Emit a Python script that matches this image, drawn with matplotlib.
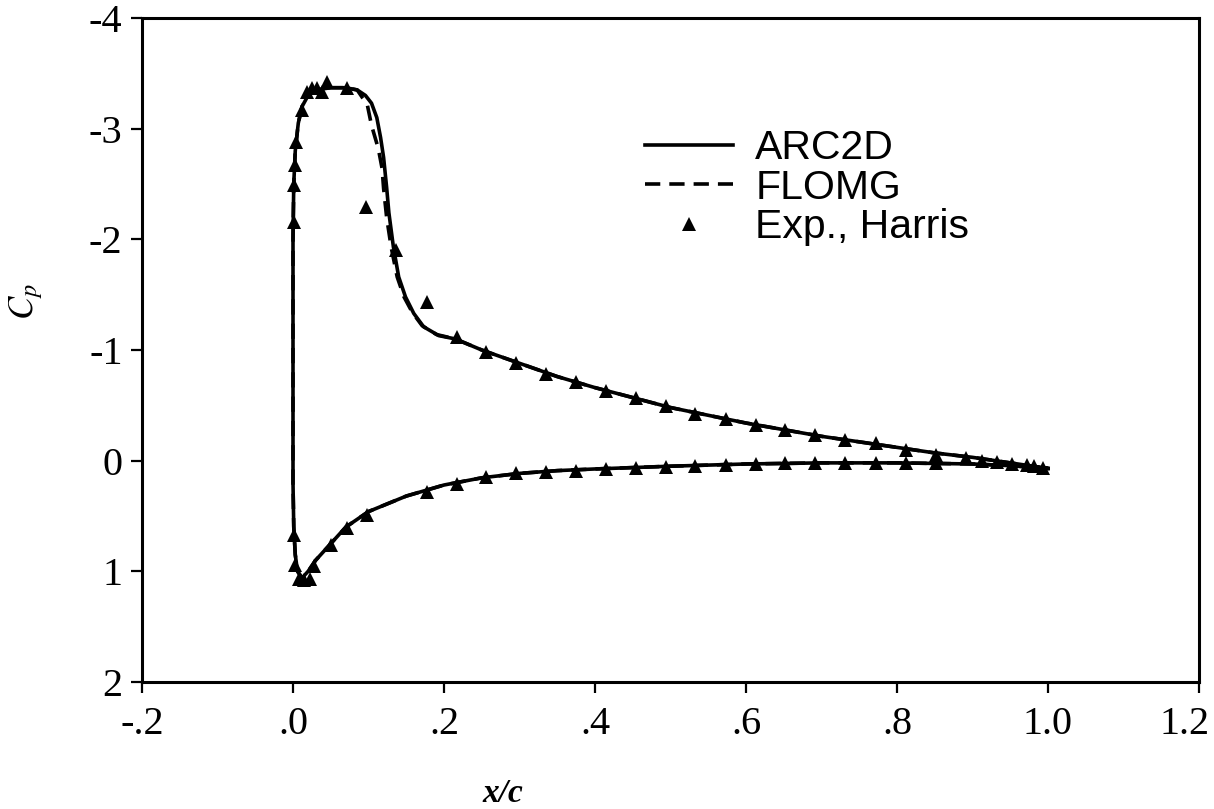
import matplotlib
matplotlib.use("Agg")
import matplotlib.pyplot as plt
import matplotlib.transforms as mtransforms

# ---------------- data ----------------
# ARC2D computed Cp (path: lower TE -> leading edge -> upper TE)
arc_x = [1.0, 0.95, 0.9, 0.8, 0.7, 0.6, 0.5, 0.4, 0.35, 0.3, 0.25, 0.2, 0.15, 0.1,
         0.07, 0.05, 0.03, 0.02, 0.012, 0.006, 0.003, 0.001, 0.0, 0.0, 0.0,
         0.001, 0.003, 0.007, 0.012, 0.02, 0.03, 0.05, 0.07, 0.085, 0.096, 0.104,
         0.111, 0.116, 0.120, 0.124, 0.127, 0.133, 0.14, 0.149, 0.16, 0.173, 0.193,
         0.215, 0.25, 0.3, 0.35, 0.4, 0.45, 0.5, 0.55, 0.6, 0.65, 0.7, 0.75, 0.8,
         0.85, 0.9, 0.95, 1.0]
arc_cp = [0.07, 0.045, 0.03, 0.02, 0.02, 0.03, 0.05, 0.075, 0.09, 0.115, 0.155, 0.22,
          0.32, 0.46, 0.6, 0.75, 0.9, 1.0, 1.06, 1.0, 0.85, 0.6, 0.2, -1.0, -2.0,
          -2.5, -2.8, -3.05, -3.2, -3.3, -3.35, -3.37, -3.37, -3.35, -3.30, -3.23,
          -3.10, -2.92, -2.74, -2.47, -2.24, -1.93, -1.66, -1.48, -1.33, -1.21, -1.13,
          -1.10, -1.00, -0.88, -0.76, -0.66, -0.57, -0.48, -0.41, -0.34, -0.28, -0.22,
          -0.17, -0.12, -0.07, -0.03, 0.02, 0.07]

# FLOMG computed Cp
flomg_x = [1.0, 0.95, 0.9, 0.8, 0.7, 0.6, 0.5, 0.4, 0.35, 0.3, 0.25, 0.2, 0.15, 0.1,
           0.07, 0.05, 0.03, 0.02, 0.012, 0.006, 0.003, 0.001, 0.0, 0.0, 0.0,
           0.001, 0.003, 0.007, 0.012, 0.02, 0.03, 0.05, 0.07, 0.085, 0.092, 0.098,
           0.104, 0.113, 0.118, 0.120, 0.124, 0.130, 0.138, 0.147, 0.158, 0.171, 0.19,
           0.215, 0.25, 0.3, 0.35, 0.4, 0.45, 0.5, 0.55, 0.6, 0.65, 0.7, 0.75, 0.8,
           0.85, 0.9, 0.95, 1.0]
flomg_cp = [0.07, 0.045, 0.03, 0.02, 0.02, 0.03, 0.05, 0.075, 0.09, 0.115, 0.155, 0.22,
            0.32, 0.46, 0.6, 0.75, 0.9, 1.0, 1.06, 1.0, 0.85, 0.6, 0.2, -1.0, -2.0,
            -2.5, -2.8, -3.05, -3.2, -3.3, -3.35, -3.37, -3.37, -3.35, -3.28, -3.23,
            -3.03, -2.82, -2.64, -2.46, -2.20, -1.93, -1.66, -1.48, -1.34, -1.22, -1.14,
            -1.10, -1.00, -0.88, -0.76, -0.66, -0.57, -0.48, -0.41, -0.34, -0.28, -0.22,
            -0.17, -0.12, -0.07, -0.03, 0.02, 0.07]

# Experiment (Harris)
exp_upper_x = [0.001, 0.001, 0.003, 0.004, 0.012, 0.019, 0.025, 0.032, 0.038, 0.045,
               0.072, 0.097, 0.136, 0.177, 0.217, 0.256, 0.296, 0.335, 0.375, 0.415,
               0.454, 0.494, 0.533, 0.573, 0.613, 0.652, 0.692, 0.731, 0.772, 0.812,
               0.851, 0.891, 0.912, 0.932, 0.952, 0.972, 0.982, 0.994]
exp_upper_cp = [-2.16, -2.49, -2.67, -2.88, -3.17, -3.33, -3.37, -3.37, -3.33, -3.42,
                -3.37, -2.29, -1.90, -1.43, -1.12, -0.98, -0.88, -0.78, -0.71, -0.63,
                -0.57, -0.49, -0.42, -0.38, -0.32, -0.28, -0.23, -0.19, -0.16, -0.10,
                -0.05, -0.02, 0.00, 0.01, 0.03, 0.04, 0.05, 0.07]
exp_lower_x = [0.001, 0.003, 0.008, 0.015, 0.022, 0.028, 0.050, 0.072, 0.098, 0.177,
               0.217, 0.256, 0.296, 0.335, 0.375, 0.415, 0.454, 0.494, 0.533, 0.573,
               0.613, 0.652, 0.692, 0.731, 0.772, 0.812, 0.851]
exp_lower_cp = [0.67, 0.94, 1.07, 1.08, 1.07, 0.95, 0.76, 0.61, 0.49, 0.28,
                0.21, 0.15, 0.11, 0.10, 0.09, 0.076, 0.067, 0.058, 0.049, 0.035,
                0.03, 0.025, 0.025, 0.02, 0.02, 0.02, 0.02]

x_ticks = [-0.2, 0.0, 0.2, 0.4, 0.6, 0.8, 1.0, 1.2]
x_ticklabels = ['-.2', '.0', '.2', '.4', '.6', '.8', '1.0', '1.2']
y_ticks = [-4, -3, -2, -1, 0, 1, 2]
y_ticklabels = ['-4', '-3', '-2', '-1', '0', '1', '2']

# ---------------- plot ----------------
plt.rcParams['mathtext.fontset'] = 'stix'
plt.rcParams['lines.scale_dashes'] = False

W, H = 1214, 809
fig = plt.figure(figsize=(W / 100, H / 100), dpi=100)
L, R, T, B = 142, 1199, 18, 682
ax = fig.add_axes([L / W, 1 - B / H, (R - L) / W, (B - T) / H])

lw = 2.6
ax.plot(arc_x, arc_cp, color='black', lw=lw, solid_joinstyle='round', label='ARC2D')
ax.plot(flomg_x, flomg_cp, color='black', lw=lw, linestyle=(0, (11, 6.5)), label='FLOMG')
ax.plot(exp_upper_x + exp_lower_x, exp_upper_cp + exp_lower_cp, linestyle='none',
        marker='^', markersize=10, color='black', markeredgewidth=0,
        label='Exp., Harris')

ax.set_xlim(-0.2, 1.2)
ax.set_ylim(2, -4)
ax.set_xticks(x_ticks)
ax.set_xticklabels(x_ticklabels)
ax.set_yticks(y_ticks)
ax.set_yticklabels(y_ticklabels)

for sp in ax.spines.values():
    sp.set_linewidth(2.2)
ax.tick_params(direction='out', length=8, width=1.6, labelsize=29,
               labelfontfamily='Liberation Serif')
ax.tick_params(axis='x', pad=9)
ax.tick_params(axis='y', pad=6)

# last x tick label sits a little left of its tick in the reference
last = ax.get_xticklabels()[-1]
last.set_transform(last.get_transform() +
                   mtransforms.ScaledTranslation(-14 / 100, 0, fig.dpi_scale_trans))

ax.set_xlabel('x/c', fontfamily='Liberation Serif', fontstyle='italic',
              fontweight='bold', fontsize=24)
ax.xaxis.set_label_coords((503 - L) / (R - L), (B - 778) / (B - T))
ax.set_ylabel(r'$C_p$', fontsize=25, rotation=90)
ax.yaxis.set_label_coords((45 - L) / (R - L), (B - 302) / (B - T))

leg = ax.legend(loc='upper left', bbox_to_anchor=((645 - L) / (R - L), (B - 129) / (B - T)),
                frameon=False, prop={'family': 'Liberation Sans', 'size': 29.5},
                handlelength=2.15, handletextpad=0.54, labelspacing=0.04,
                borderpad=0, borderaxespad=0, numpoints=1)

fig.savefig('out.png', dpi=100)
